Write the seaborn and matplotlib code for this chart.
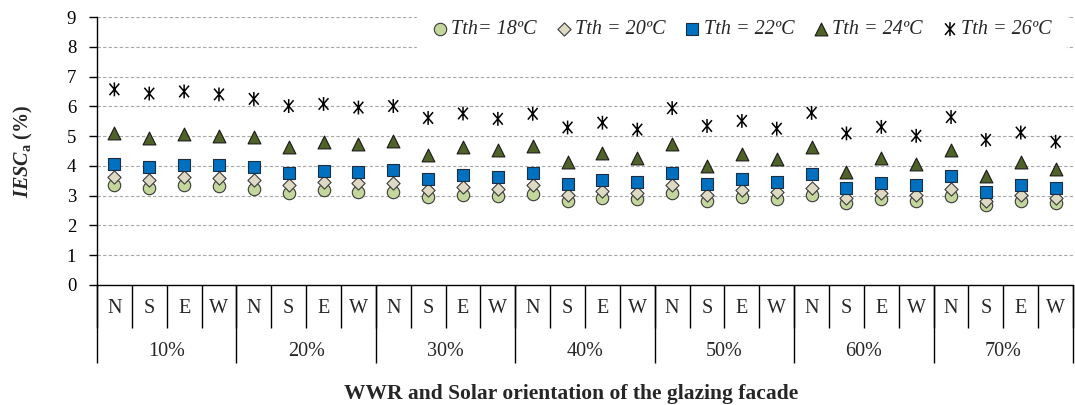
import numpy as np
import pandas as pd
import seaborn as sns
import matplotlib
matplotlib.use('Agg')
import matplotlib.pyplot as plt
from matplotlib.path import Path

# categories
wwr = ['10%', '20%', '30%', '40%', '50%', '60%', '70%']
orient = ['N', 'S', 'E', 'W']

# IESC_a (%) per threshold temperature, order: WWR x (N, S, E, W)
t18 = [3.35, 3.27, 3.35, 3.32, 3.22, 3.08, 3.19, 3.14, 3.12, 2.94, 3.03, 3.00, 3.05, 2.81,
       2.92, 2.88, 3.08, 2.82, 2.96, 2.89, 3.03, 2.74, 2.89, 2.81, 2.99, 2.67, 2.81, 2.74]
t20 = [3.63, 3.52, 3.62, 3.61, 3.51, 3.35, 3.46, 3.41, 3.41, 3.19, 3.30, 3.24, 3.36, 3.03,
       3.16, 3.10, 3.37, 3.03, 3.19, 3.11, 3.27, 2.91, 3.08, 3.02, 3.22, 2.82, 3.01, 2.93]
t22 = [4.05, 3.97, 4.04, 4.02, 3.96, 3.75, 3.84, 3.80, 3.86, 3.56, 3.68, 3.62, 3.77, 3.39,
       3.52, 3.46, 3.77, 3.39, 3.55, 3.46, 3.72, 3.26, 3.43, 3.36, 3.66, 3.14, 3.35, 3.26]
t24 = [5.09, 4.92, 5.06, 5.02, 4.96, 4.64, 4.81, 4.75, 4.83, 4.36, 4.63, 4.52, 4.67, 4.12,
       4.42, 4.28, 4.73, 3.99, 4.40, 4.23, 4.63, 3.80, 4.25, 4.06, 4.53, 3.66, 4.12, 3.90]
t26 = [6.57, 6.43, 6.50, 6.40, 6.25, 6.01, 6.08, 5.96, 6.01, 5.61, 5.76, 5.58, 5.75, 5.29,
       5.45, 5.22, 5.94, 5.34, 5.51, 5.25, 5.78, 5.09, 5.31, 5.01, 5.64, 4.87, 5.12, 4.81]

labels = ['Tth= 18ºC', 'Tth = 20ºC', 'Tth = 22ºC', 'Tth = 24ºC', 'Tth = 26ºC']

sns.set_style('white')
plt.rcParams['font.family'] = ['Liberation Serif', 'DejaVu Serif']
plt.rcParams['mathtext.fontset'] = 'custom'
plt.rcParams['mathtext.rm'] = 'Liberation Serif'
plt.rcParams['mathtext.bf'] = 'Liberation Serif:bold'
plt.rcParams['mathtext.bfit'] = 'Liberation Serif:italic:bold'

# long table
n = len(wwr) * len(orient)
df = pd.DataFrame({
    'pos': np.arange(n),
    'wwr': np.repeat(wwr, len(orient)),
    'orient': orient * len(wwr),
})
for lab, vals in zip(labels, [t18, t20, t22, t24, t26]):
    df[lab] = vals

# excel-like star: X with a vertical bar
star = Path([(-0.85, -1), (0.85, 1), (-0.85, 1), (0.85, -1), (0, -1.2), (0, 1.2)],
            [Path.MOVETO, Path.LINETO] * 3)

styles = [
    dict(marker='o', facecolor='#C3D69B', edgecolor='#3a3a3a', s=80, linewidth=0.8),
    dict(marker='D', facecolor='#DDD9C3', edgecolor='#3a3a3a', s=45, linewidth=0.8),
    dict(marker='s', facecolor='#0070C0', edgecolor='#1f2f3f', s=80, linewidth=0.8),
    dict(marker='^', facecolor='#4F6228', edgecolor='#1a1a1a', s=85, linewidth=0.8),
    dict(marker=star, facecolor='none', edgecolor='black', s=100, linewidth=1.1),
]

fig = plt.figure(figsize=(10.75, 4.05), dpi=100)
ax = fig.add_axes([0.0902, 0.2963, 0.908, 0.6617])

for lab, st in zip(labels, styles):
    sns.scatterplot(data=df, x='pos', y=lab, ax=ax, label=lab, zorder=3, **st)

ax.set_xlim(-0.5, n - 0.5)
ax.set_ylim(0, 9)
ax.set_yticks(range(10))
ax.tick_params(axis='y', labelsize=13.5, length=6, width=1, direction='out',
               left=True, pad=9, colors='black')
ax.set_axisbelow(True)
ax.yaxis.grid(True, linestyle=(0, (3, 2)), color='#A6A6A6', linewidth=0.8)
ax.xaxis.grid(False)
for side in ['top', 'right']:
    ax.spines[side].set_visible(False)
for side in ['left', 'bottom']:
    ax.spines[side].set_color('black')
    ax.spines[side].set_linewidth(1.0)

# orientation labels and separators
ax.set_xticks(df['pos'])
ax.set_xticklabels(df['orient'])
ax.set_xticks(np.arange(n + 1) - 0.5, minor=True)
ax.tick_params(axis='x', which='major', length=0, pad=10, labelsize=14.5, bottom=True)
ax.tick_params(axis='x', which='minor', length=31, width=1, color='black',
               direction='out', bottom=True)

# WWR group separators and labels
grp = ax.secondary_xaxis('bottom')
grp.set_xticks(np.arange(0, n + 1, len(orient)) - 0.5)
grp.set_xticklabels([])
grp.tick_params(length=56, width=1, color='black', direction='out')
grp.spines['bottom'].set_visible(False)

glab = ax.secondary_xaxis('bottom')
glab.set_xticks(np.arange(len(wwr)) * len(orient) + (len(orient) - 1) / 2)
glab.set_xticklabels(wwr)
glab.tick_params(length=0, pad=41, labelsize=14.5)
glab.spines['bottom'].set_visible(False)

ax.set_xlabel('WWR and Solar orientation of the glazing facade', fontsize=15.5,
              fontweight='bold', labelpad=37)
ax.xaxis.label.set_x(0.486)
ax.set_ylabel(r'$\mathbfit{IESC}_{\mathbf{a}}$ (%)', fontsize=14.5, fontweight='bold',
              labelpad=23)

leg = ax.legend(loc='center', bbox_to_anchor=(0.66, 0.952), ncol=5, frameon=True,
                fancybox=False, edgecolor='white', framealpha=1, borderpad=0.7,
                handletextpad=0.1, columnspacing=0.9, handlelength=0.9,
                prop={'family': 'Liberation Serif', 'style': 'italic', 'size': 14.5})
leg.set_zorder(5)

fig.savefig('out.png', dpi=100)
